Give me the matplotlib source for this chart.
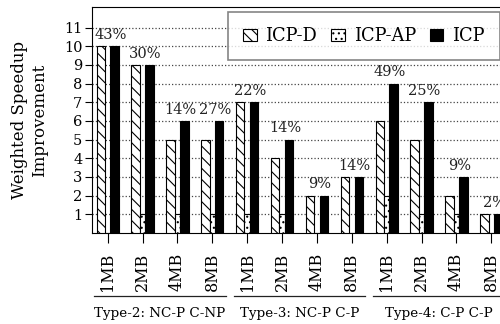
import numpy as np
import matplotlib
matplotlib.use("Agg")
import matplotlib.pyplot as plt

plt.rcParams['font.family'] = ['DejaVu Serif']
plt.rcParams['hatch.linewidth'] = 0.8

# cache sizes per workload type
sizes = ['1MB', '2MB', '4MB', '8MB'] * 3
groups = ['Type-2: NC-P C-NP', 'Type-3: NC-P C-P', 'Type-4: C-P C-P']

icp_d = [10, 9, 5, 5, 7, 4, 2, 3, 6, 5, 2, 1]
icp_ap = [0, 1, 1, 1, 1, 1, 0, 0, 2, 1, 1, 0]
icp = [10, 9, 6, 6, 7, 5, 2, 3, 8, 7, 3, 1]
gain = ['43%', '30%', '14%', '27%', '22%', '14%', '9%', '14%', '49%', '25%', '9%', '2%']

x = np.arange(len(sizes))

fig = plt.figure(figsize=(5, 3.24), dpi=100)
ax = fig.add_axes([92 / 500, 91 / 324, 415 / 500, 226 / 324])

ax.bar(x - 0.2, icp_d, 0.24, color='white', edgecolor='black', hatch='\\\\\\',
       linewidth=0.8, label='ICP-D', zorder=3)
ax.bar(x, icp_ap, 0.16, color='white', edgecolor='black', hatch='...',
       linewidth=0.8, label='ICP-AP', zorder=3)
ax.bar(x + 0.2, icp, 0.24, color='black', edgecolor='black',
       linewidth=0.8, label='ICP', zorder=3)

for xi, top, txt in zip(x, np.maximum(icp_d, icp), gain):
    ax.annotate(txt, (xi + 0.08, top), xytext=(0, 3), textcoords='offset points',
                ha='center', va='bottom', fontsize=10.5, color='#222222')

ax.set_xlim(-0.45, 11.45)
ax.set_ylim(0, 12.1)
ax.set_yticks(range(1, 12))
ax.set_xticks(x)
ax.set_xticklabels(sizes, rotation=90, fontsize=11.5)
ax.tick_params(axis='y', labelsize=10.5, direction='out', length=5, pad=2)
ax.tick_params(axis='x', direction='out', length=7, pad=7)
ax.yaxis.grid(True, linestyle=':', color='#444444', linewidth=0.9, zorder=0)
ax.set_axisbelow(True)

ax.set_ylabel('Weighted Speedup\nImprovement', fontsize=12, linespacing=1.3,
              labelpad=11)

# workload type brackets under the tick labels
for g, name in enumerate(groups):
    ax.plot([g * 4 - 0.38, g * 4 + 3.38], [-0.279, -0.279], color='#222222',
            linewidth=0.9, transform=ax.get_xaxis_transform(), clip_on=False)
    ax.text(g * 4 + 1.5, -0.355, name, ha='center', va='center', fontsize=9.7,
            transform=ax.get_xaxis_transform())

leg = ax.legend(loc='upper right', bbox_to_anchor=(0.983, 0.978), ncol=3,
                fontsize=12.8, frameon=True, fancybox=False, edgecolor='#666666',
                handlelength=0.75, handleheight=0.7, handletextpad=0.5,
                columnspacing=0.8, borderpad=0.85, borderaxespad=0)
leg.get_frame().set_linewidth(1.2)

fig.savefig('out.png', dpi=100)
